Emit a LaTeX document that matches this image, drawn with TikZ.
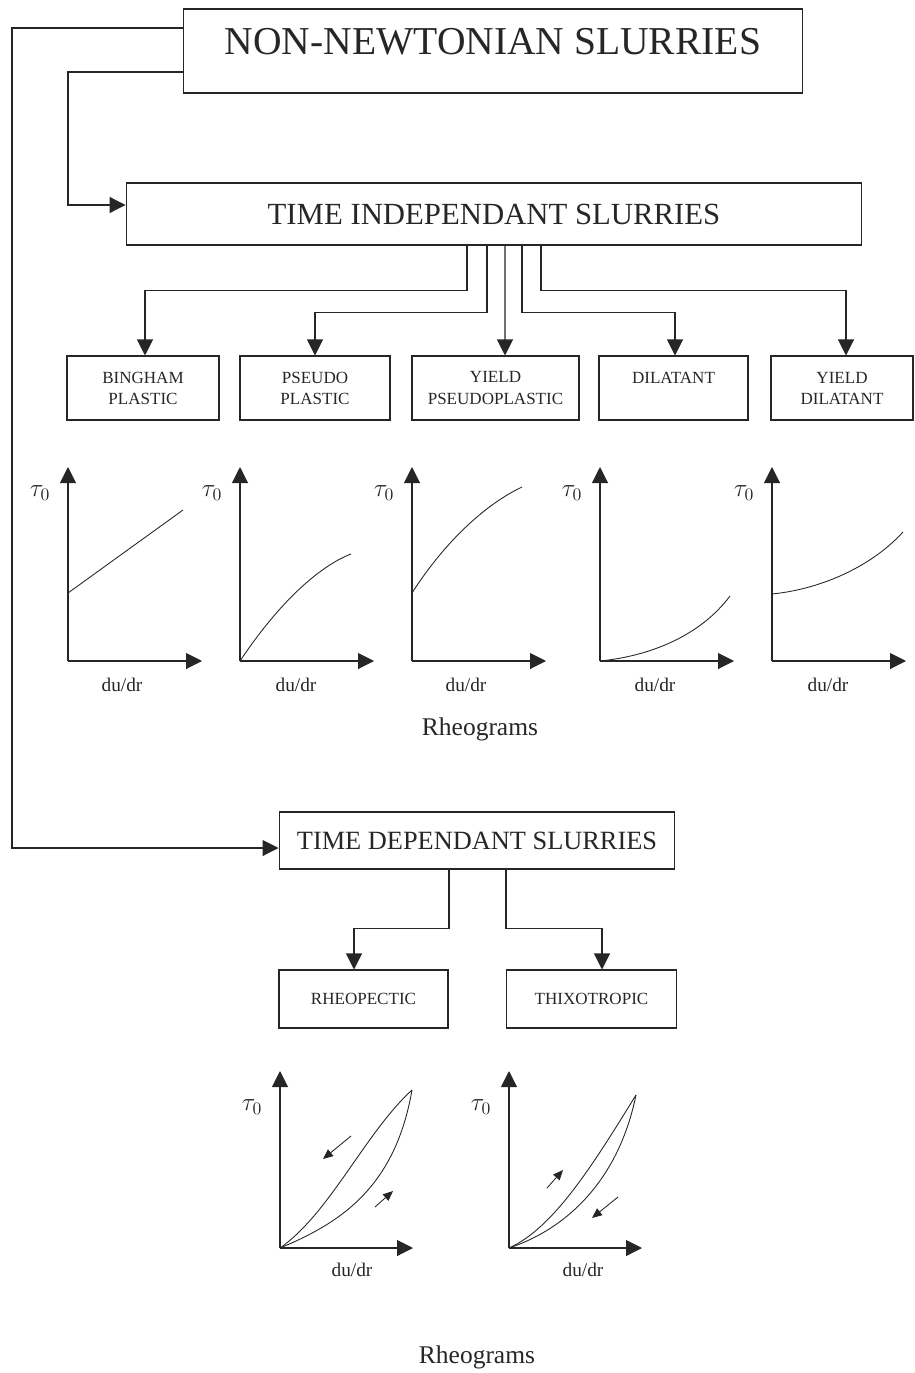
\documentclass[tikz,border=0pt]{standalone}
\usepackage{fontspec}
\setmainfont{Liberation Serif}
\usepackage{amsmath}
\usetikzlibrary{arrows,arrows.meta}

\begin{document}
\begin{tikzpicture}[
x=0.02cm, y=-0.02cm, color=black!85,
box/.style={draw, line width=0.6pt, inner sep=0pt, align=center},
small/.style={font=\fontsize{9.7}{12}\selectfont},
arrow/.style={-{Triangle[length=0.32cm,width=0.32cm]},line width=0.6pt},
axis/.style={-{Triangle[length=0.32cm,width=0.32cm]},line width=0.6pt},
flow/.style={-{Triangle[length=0.2cm,width=0.17cm]},line width=0.5pt},
curve/.style={line width=0.5pt},
axislabel/.style={font=\fontsize{11}{13}\selectfont} ]

\useasboundingbox (0,0) rectangle (914,1373);

\node[box, minimum width=12.4cm, minimum height=1.68cm, text height=0.52cm, text depth=0.38cm, font=\fontsize{22.5}{26}\selectfont] (A) at (493,51) {NON-NEWTONIAN SLURRIES};

\node[box, minimum width=14.72cm, minimum height=1.24cm, font=\fontsize{17.5}{20}\selectfont] (B) at (494,214) {TIME INDEPENDANT SLURRIES};

\node[box, small, minimum width=3.04cm, minimum height=1.28cm] (C) at (143,388) {BINGHAM\\PLASTIC};

\node[box, small, minimum width=3.0cm, minimum height=1.28cm] (D) at (315,388) {PSEUDO\\PLASTIC};

\node[box, small, minimum width=3.34cm, minimum height=1.28cm] (E) at (495.5,388) {YIELD\\PSEUDOPLASTIC};

\node[box, small, minimum width=2.98cm, minimum height=1.28cm] (F) at (673.5,388) {DILATANT\\\phantom{X}};

\node[box, small, minimum width=2.84cm, minimum height=1.28cm] (G) at (842,388) {YIELD\\DILATANT};

\node[box, minimum width=7.92cm, minimum height=1.14cm, font=\fontsize{15}{18}\selectfont] (H) at (477,840.5) {TIME DEPENDANT SLURRIES};

\node[box, small, minimum width=3.38cm, minimum height=1.16cm] (I) at (363.5,999) {RHEOPECTIC};

\node[box, small, minimum width=3.4cm, minimum height=1.16cm] (J) at (591.5,999) {THIXOTROPIC};

\coordinate (L1) at (12,440);

\coordinate (L2) at (68,140);

\draw[arrow] ([yshift=0.46cm]A.west) -| (L1) |- ([yshift=-0.15cm]H.west);

\draw[arrow] ([yshift=-0.42cm]A.west) -| (L2) |- ([yshift=0.18cm]B.west);

\draw[arrow] ([xshift=-0.54cm]B.south) -- ++(0,45) -| ([xshift=0.04cm]C.north);

\draw[arrow] ([xshift=-0.14cm]B.south) -- ++(0,67) -| (D.north);

\draw[arrow] ([xshift=0.22cm]B.south) -- ([xshift=0.19cm]E.north);

\draw[arrow] ([xshift=0.56cm]B.south) -- ++(0,67) -| ([xshift=0.03cm]F.north);

\draw[arrow] ([xshift=0.94cm]B.south) -- ++(0,45) -| ([xshift=0.08cm]G.north);

\draw[arrow] ([xshift=-0.56cm]H.south) -- ++(0,59) -| ([xshift=-0.19cm]I.north);

\draw[arrow] ([xshift=0.58cm]H.south) -- ++(0,59) -| ([xshift=0.21cm]J.north);

\foreach \ox/\lx in {68/122, 240/296, 412/466, 600/655, 772/828} {
  \draw[axis] (\ox,661) -- (\ox,467);
  \draw[axis] (\ox,661) -- (\ox+134,661);
  \node[font=\Large] (tau\ox) at (\ox-28,493) {$\tau_0$};
  \node[axislabel] (rate\ox) at (\lx,685) {du/dr};
}

\draw[curve] (68,593) -- (183,510);

\draw[curve] (240,661) .. controls (280,601) and (320,566) .. (351,554);

\draw[curve] (412,593) .. controls (442,546) and (482,506) .. (522,487);

\draw[curve] (600,661) .. controls (650,656) and (700,636) .. (730,596);

\draw[curve] (772,594) .. controls (822,589) and (872,566) .. (903,532);

\node[font=\fontsize{14.5}{17}\selectfont] (K) at (480,729) {Rheograms};

\foreach \ox/\lx in {280/352, 509/583} {
  \draw[axis] (\ox,1248) -- (\ox,1071);
  \draw[axis] (\ox,1248) -- (\ox+133,1248);
  \node[font=\Large] (tau\ox) at (\ox-28,1107) {$\tau_0$};
  \node[axislabel] (rate\ox) at (\lx,1270) {du/dr};
}

\draw[curve] (280,1248) .. controls (330,1213) and (365,1133) .. (412,1090);

\draw[curve] (280,1248) .. controls (340,1223) and (395,1188) .. (412,1090);

\draw[flow] (351,1136) -- (323,1159);

\draw[flow] (375,1207) -- (393,1191);

\draw[curve] (509,1248) .. controls (554,1228) and (594,1163) .. (636,1095);

\draw[curve] (509,1248) .. controls (569,1228) and (619,1178) .. (636,1095);

\draw[flow] (547,1188) -- (563,1170);

\draw[flow] (618,1197) -- (592,1218);

\node[font=\fontsize{14.5}{17}\selectfont] (M) at (477,1357) {Rheograms};

\end{tikzpicture}
\end{document}
